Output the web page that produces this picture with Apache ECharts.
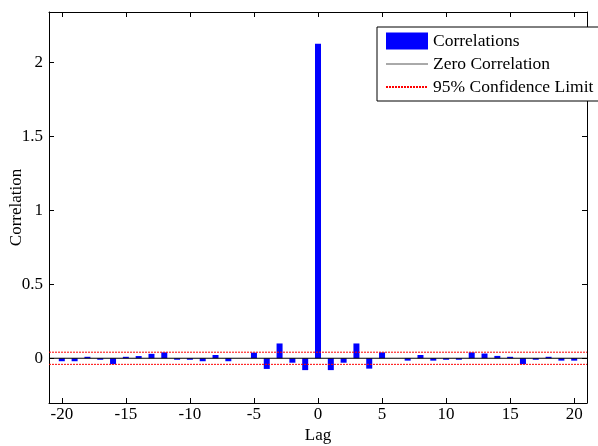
<!DOCTYPE html>
<html>
<head>
<meta charset="utf-8">
<script src="https://cdn.jsdelivr.net/npm/echarts@6/dist/echarts.min.js"></script>
<style>html,body{margin:0;padding:0;background:#fff}#c{width:598px;height:446px}</style>
</head>
<body>
<div id="c"></div>
<script>
const lags = [-20,-19,-18,-17,-16,-15,-14,-13,-12,-11,-10,-9,-8,-7,-6,-5,-4,-3,-2,-1,0,1,2,3,4,5,6,7,8,9,10,11,12,13,14,15,16,17,18,19,20];
const correlations = [-0.02,-0.02,0.01,-0.01,-0.04,0.01,0.015,0.03,0.04,-0.01,-0.01,-0.02,0.022,-0.02,0,0.038,-0.072,0.1,-0.03,-0.08,2.124,-0.08,-0.03,0.1,-0.07,0.04,0,-0.016,0.022,-0.016,-0.01,-0.01,0.04,0.032,0.016,0.01,-0.04,-0.01,0.01,-0.016,-0.016];
const xRange = [-21, 21];
const zeroLine = [0, 0];
const upperLimit = [0.041, 0.041];
const lowerLimit = [-0.041, -0.041];
const xTicks = [-20,-15,-10,-5,0,5,10,15,20];
const yTicks = [0,0.5,1,1.5,2];

const font = 'Liberation Serif';
const chart = echarts.init(document.getElementById('c'));
const pair = (xs, ys) => xs.map((x, i) => [x, ys[i]]);

chart.setOption({
  animation: false,
  grid: {left: 49, right: 11, top: 12, bottom: 43, containLabel: false, outerBoundsMode: 'none'},
  xAxis: [{
    type: 'value', min: xRange[0], max: xRange[1], position: 'bottom',
    name: 'Lag', nameLocation: 'middle', nameGap: 24, nameMoveOverlap: false,
    nameTextStyle: {fontFamily: font, fontSize: 17, color: '#000'},
    axisLine: {onZero: false, lineStyle: {color: '#000', width: 1}},
    axisTick: {inside: true, length: 5, customValues: xTicks, lineStyle: {color: '#000'}},
    axisLabel: {customValues: xTicks, fontFamily: font, fontSize: 17, color: '#000', margin: 3},
    splitLine: {show: false}
  }, {
    type: 'value', min: xRange[0], max: xRange[1], position: 'top',
    axisLine: {onZero: false, lineStyle: {color: '#000', width: 1}},
    axisTick: {inside: true, length: 5, customValues: xTicks, lineStyle: {color: '#000'}},
    axisLabel: {show: false},
    splitLine: {show: false}
  }],
  yAxis: [{
    type: 'value', min: -0.302, max: 2.338, position: 'left',
    name: 'Correlation', nameLocation: 'middle', nameGap: 24, nameMoveOverlap: false,
    nameTextStyle: {fontFamily: font, fontSize: 17, color: '#000'},
    axisLine: {show: true, onZero: false, lineStyle: {color: '#000', width: 1}},
    axisTick: {show: true, inside: true, length: 5, customValues: yTicks, lineStyle: {color: '#000'}},
    axisLabel: {customValues: yTicks, fontFamily: font, fontSize: 17, color: '#000', margin: 6},
    splitLine: {show: false}
  }, {
    type: 'value', min: -0.302, max: 2.338, position: 'right',
    axisLine: {show: true, onZero: false, lineStyle: {color: '#000', width: 1}},
    axisTick: {show: true, inside: true, length: 5, customValues: yTicks, lineStyle: {color: '#000'}},
    axisLabel: {show: false},
    splitLine: {show: false}
  }],
  legend: {
    left: 377, top: 27, orient: 'vertical',
    itemWidth: 42, itemHeight: 17, itemGap: 5,
    padding: [5, 12, 5, 8],
    borderColor: '#000', borderWidth: 1, backgroundColor: '#fff',
    textStyle: {fontFamily: font, fontSize: 17.5, color: '#000'},
    data: [
      {name: 'Correlations', icon: 'rect'},
      {name: 'Zero Correlation', itemStyle: {opacity: 0}, lineStyle: {color: '#555', width: 1}},
      {name: '95% Confidence Limit', itemStyle: {opacity: 0}}
    ]
  },
  series: [{
    name: 'Correlations', type: 'bar', barWidth: 6,
    itemStyle: {color: '#0000ff'},
    data: pair(lags, correlations), z: 2
  }, {
    name: 'Zero Correlation', type: 'line', symbol: 'none',
    itemStyle: {color: '#000'},
    lineStyle: {color: '#000', width: 1.2},
    data: pair(xRange, zeroLine), z: 3
  }, {
    name: '95% Confidence Limit', type: 'line', symbol: 'none',
    itemStyle: {color: '#ff0000'},
    lineStyle: {color: '#ff0000', width: 1, type: [2, 1]},
    data: pair(xRange, upperLimit), z: 3
  }, {
    name: '95% Confidence Limit', type: 'line', symbol: 'none',
    itemStyle: {color: '#ff0000'},
    lineStyle: {color: '#ff0000', width: 1, type: [2, 1]},
    data: pair(xRange, lowerLimit), z: 3
  }]
});
</script>
</body>
</html>
